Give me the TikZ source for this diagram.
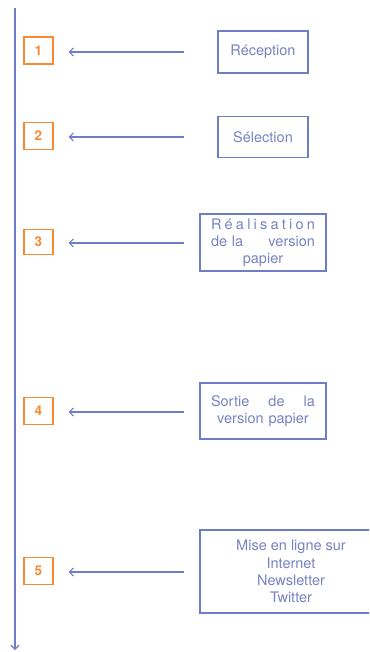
\documentclass[tikz,border=0pt]{standalone}
\usepackage{fontspec}
\setmainfont{TeX Gyre Heros}
\usetikzlibrary{arrows.meta, positioning}
\definecolor{lineblue}{HTML}{6F7CC6}
\definecolor{textblue}{HTML}{7782C2}
\definecolor{numorange}{HTML}{F58A32}
\newcommand{\spreadline}[1]{\leavevmode\hbox to 104pt{#1}}

\begin{document}
\begin{tikzpicture}[
    x=1pt, y=-1pt,
    stepbox/.style={rectangle, draw=lineblue, line width=1.1pt, align=center, inner sep=0pt, font=\fontsize{14.5}{17.2}\selectfont, text=textblue},
    numbox/.style={rectangle, draw=numorange, line width=1.2pt, minimum width=29pt, minimum height=27pt, font=\fontsize{13.5}{15}\selectfont\bfseries, text=numorange},
    arrow/.style={-{Straight Barb[length=4pt, width=8pt]}, line width=1.1pt, color=lineblue}
]
\clip (0,0) rectangle (369,652);

% time line
\coordinate (top) at (15,8);
\coordinate (bottom) at (15,650);
\draw[arrow] (top) -- (bottom);

% steps
\node[stepbox, minimum width=90pt, minimum height=42pt] (recept) at (263,52) {Réception};
\node[stepbox, minimum width=90pt, minimum height=41pt] (select) at (263,137) {Sélection};
\node[stepbox, minimum width=126pt, minimum height=57pt, text width=104pt] (real) at (263,242.5)
    {\spreadline{R\hfill é\hfill a\hfill l\hfill i\hfill s\hfill a\hfill t\hfill i\hfill o\hfill n}\\
     \spreadline{de la\hfill version}\\papier};
\node[stepbox, minimum width=126pt, minimum height=56pt, text width=104pt] (sortie) at (263,411)
    {\spreadline{Sortie\hfill de\hfill la}\\version papier};
\node[stepbox, minimum width=182pt, minimum height=83pt] (online) at (291,571.5)
    {Mise en ligne sur\\Internet\\Newsletter\\Twitter};

% numbers
\node[numbox] (num1) at (38.5,50.5) {1};
\node[numbox] (num2) at (38.5,136) {2};
\node[numbox, minimum height=25pt] (num3) at (38.5,242) {3};
\node[numbox] (num4) at (38.5,411) {4};
\node[numbox] (num5) at (38.5,571) {5};

% arrows
\foreach \i/\y in {1/52, 2/137, 3/243, 4/412, 5/572} {
  \coordinate (a\i) at (184,\y);
  \draw[arrow, shorten >=15pt] (a\i) -- (a\i -| num\i.east);
}
\end{tikzpicture}
\end{document}
